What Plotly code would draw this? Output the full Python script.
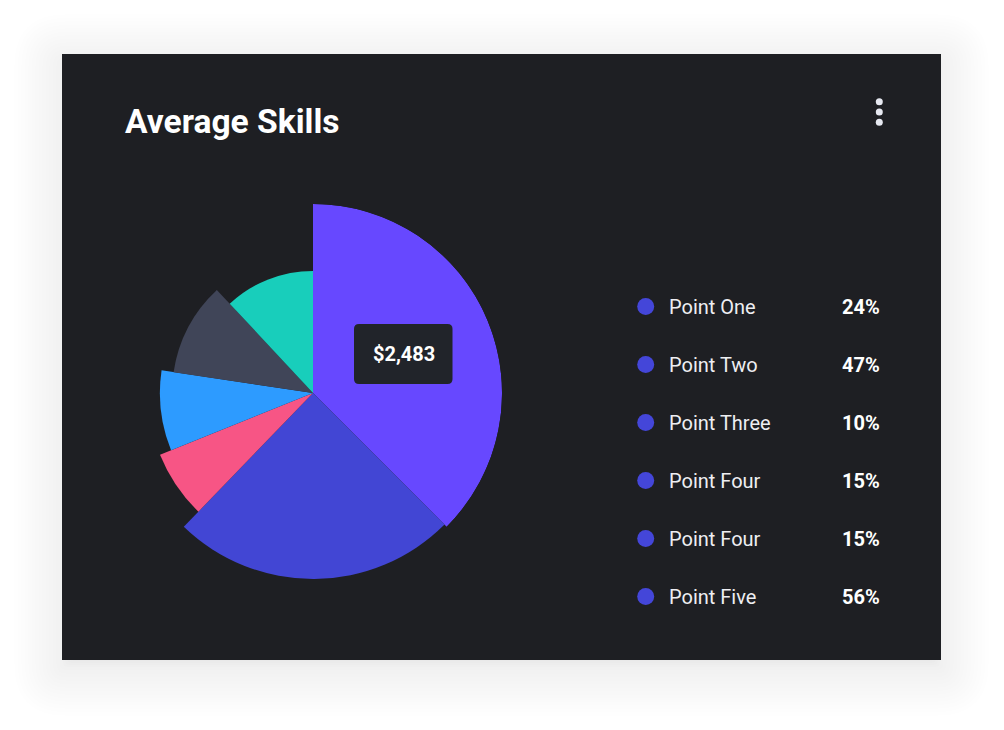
import plotly.graph_objects as go

# ---------------- data ----------------
slice_names = ["Slice A", "Slice B", "Slice C", "Slice D", "Slice E", "Slice F"]
slice_angles = [135, 89, 24, 30.5, 38.5, 43]          # angular share (degrees)
slice_radius = [100, 98.4, 87.3, 81, 74.6, 64.6]      # relative radius
slice_colors = ["#6748FF", "#4246D4", "#F75585", "#2D9BFF", "#404558", "#18CEBB"]

legend_labels = ["Point One", "Point Two", "Point Three", "Point Four", "Point Four", "Point Five"]
legend_values = ["24%", "47%", "10%", "15%", "15%", "56%"]

title_text = "Average Skills"
tooltip_text = "$2,483"

# ---------------- layout constants ----------------
W, H = 1004, 730
CARD = (62, 54, 941, 660)
CARD_BG = "#1E1F23"
CX, CY, R = 313, 393, 189
FONT = "Roboto"

fig = go.Figure()

# pie made of variable-radius wedges (barpolar)
starts = []
acc = 0
for a in slice_angles:
    starts.append(acc)
    acc += a
centers = [s + a / 2 for s, a in zip(starts, slice_angles)]
fig.add_trace(go.Barpolar(
    r=slice_radius, theta=centers, width=slice_angles,
    marker=dict(color=slice_colors, line=dict(width=0)),
    text=slice_names, hoverinfo="text", showlegend=False,
))


def rrect(x0, y0, x1, y1, r):
    return (f"M{x0+r},{y0} L{x1-r},{y0} Q{x1},{y0} {x1},{y0+r} "
            f"L{x1},{y1-r} Q{x1},{y1} {x1-r},{y1} L{x0+r},{y1} "
            f"Q{x0},{y1} {x0},{y1-r} L{x0},{y0+r} Q{x0},{y0} {x0+r},{y0} Z")


shapes = []
# soft shadow: outer spread layers (faint) then inner offset layers (a bit stronger)
spreads = [48 - 3.5 * i for i in range(14)] + [-1, -3, -5, -7]
for s in spreads:
    alpha = 0.004 if s > 0 else 0.008
    shapes.append(dict(type="path", xref="x", yref="y", layer="below",
                       path=rrect(CARD[0] - s, CARD[1] - s + 8, CARD[2] + s, CARD[3] + s + 8,
                                  max(s, 0) + 4),
                       fillcolor=f"rgba(0,0,0,{alpha})", line=dict(width=0)))
# card
shapes.append(dict(type="rect", xref="x", yref="y", layer="below",
                   x0=CARD[0], y0=CARD[1], x1=CARD[2], y1=CARD[3],
                   fillcolor=CARD_BG, line=dict(width=0)))
# tooltip box
shapes.append(dict(type="path", xref="x", yref="y", layer="above",
                   path=rrect(354, 324, 452.5, 384, 5),
                   fillcolor="#21242A", line=dict(width=0)))

annotations = [
    dict(x=123, y=121, xref="x", yref="y", text=title_text, showarrow=False,
         xanchor="left", yanchor="middle",
         font=dict(family=FONT, size=33.6, color="#FFFFFF", weight=700)),
    dict(x=403.5, y=353.5, xref="x", yref="y", text=tooltip_text, showarrow=False,
         xanchor="center", yanchor="middle",
         font=dict(family=FONT, size=20, color="#FFFFFF", weight=700)),
]

row_y0, row_dy = 306.5, 58
row_ys = [row_y0 + i * row_dy for i in range(len(legend_labels))]
for lab, val, y in zip(legend_labels, legend_values, row_ys):
    annotations.append(dict(x=666.5, y=y, xref="x", yref="y", text=lab, showarrow=False,
                            xanchor="left", yanchor="middle",
                            font=dict(family=FONT, size=20, color="#EEEEF2")))
    annotations.append(dict(x=882, y=y, xref="x", yref="y", text=val, showarrow=False,
                            xanchor="right", yanchor="middle",
                            font=dict(family=FONT, size=20, color="#FFFFFF", weight=700)))

# legend dots
fig.add_trace(go.Scatter(
    x=[645.7] * len(row_ys), y=row_ys, mode="markers",
    marker=dict(size=17, color="#4446D9", line=dict(width=0)),
    hoverinfo="skip", showlegend=False,
))
# menu icon (three dots)
fig.add_trace(go.Scatter(
    x=[879.3, 879.3, 879.3], y=[101.7, 112, 122.3], mode="markers",
    marker=dict(size=7, color="#E6E8F0", line=dict(width=0)),
    hoverinfo="skip", showlegend=False,
))

fig.update_layout(
    width=W, height=H, margin=dict(l=0, r=0, t=0, b=0),
    paper_bgcolor="#FFFFFF", plot_bgcolor="rgba(0,0,0,0)",
    xaxis=dict(range=[0, W], domain=[0, 1], visible=False, fixedrange=True),
    yaxis=dict(range=[H, 0], domain=[0, 1], visible=False, fixedrange=True),
    polar=dict(
        domain=dict(x=[(CX - R) / W, (CX + R) / W], y=[(H - CY - R) / H, (H - CY + R) / H]),
        bgcolor="rgba(0,0,0,0)",
        radialaxis=dict(range=[0, 100], visible=False, showgrid=False),
        angularaxis=dict(rotation=90, direction="clockwise", visible=False,
                         showgrid=False, showline=False, showticklabels=False, ticks=""),
        hole=0,
    ),
    bargap=0,
    shapes=shapes, annotations=annotations,
    showlegend=False,
)

fig.write_html("out.html")
